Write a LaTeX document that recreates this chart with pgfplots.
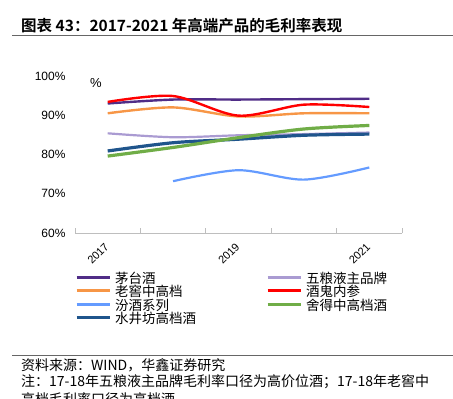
\documentclass[border=0pt]{standalone}
\usepackage{pgfplots}
\pgfplotsset{compat=1.18}
\usepackage{fontspec}
\setmainfont{Liberation Sans}
\newfontfamily\cjk{Noto Sans CJK SC}[BoldFont={Noto Sans CJK SC Bold}]
\definecolor{cmt}{RGB}{80,45,135}
\definecolor{cwl}{RGB}{170,155,210}
\definecolor{clj}{RGB}{247,150,70}
\definecolor{cjg}{RGB}{255,0,0}
\definecolor{cfj}{RGB}{100,155,255}
\definecolor{csd}{RGB}{112,173,71}
\definecolor{csj}{RGB}{31,85,140}
\definecolor{cax}{RGB}{190,190,190}
\begin{document}
\begin{tikzpicture}[x=1pt,y=1pt]
\path[use as bounding box] (0,0) rectangle (453,-399);
\clip (0,0) rectangle (453,-399);
\node[anchor=west, inner sep=0pt, font=\cjk\bfseries\fontsize{15.5}{17}\selectfont] at (21,-26) {图表 43：2017-2021 年高端产品的毛利率表现};
\draw[black!60, line width=1pt] (12,-35) -- (453,-35);
\draw[black!60, line width=1pt] (12,-355) -- (453,-355);
\node[anchor=west, inner sep=0pt, font=\cjk\fontsize{14}{15}\selectfont] at (21,-365) {资料来源：WIND，华鑫证券研究};
\node[anchor=west, inner sep=0pt, font=\cjk\fontsize{14}{15}\selectfont] at (21,-382) {注：17-18年五粮液主品牌毛利率口径为高价位酒；17-18年老窖中};
\node[anchor=west, inner sep=0pt, font=\cjk\fontsize{14}{15}\selectfont] at (21,-399) {高档毛利率口径为高档酒};
\begin{axis}[
  scale only axis, width=327pt, height=157pt,
  at={(75pt,-233pt)}, anchor=south west,
  xmin=0.5, xmax=5.5, ymin=60, ymax=100,
  axis x line*=bottom, axis y line*=left,
  y axis line style={draw=none},
  x axis line style={cax, line width=0.8pt},
  ytick={60,70,80,90,100},
  yticklabel={\pgfmathprintnumber{\tick}\%},
  y tick label style={font=\fontsize{12}{13}\selectfont, xshift=-6pt},
  major tick length=0pt,
  xtick={1,3,5}, xticklabels={2017,2019,2021},
  minor xtick={0.5,1.5,2.5,3.5,4.5,5.5},
  minor tick length=5pt, tick align=inside,
  minor tick style={cax, line width=0.8pt},
  x tick label style={font=\fontsize{11}{12}\selectfont, xshift=1.5pt, yshift=-9.5pt, rotate=45, anchor=east},
  /pgf/number format/assume math mode=true,
  legend columns=2,
  legend cell align=left,
  legend style={draw=none, fill=none, at={(axis description cs:0.0,-0.262)}, anchor=north west,
    font=\cjk\fontsize{13.5}{14}\selectfont, inner sep=0pt, row sep=0pt, column sep=4pt,
    nodes={inner sep=0pt, text height=9.3pt, text depth=4pt}},
  legend image code/.code={\draw[#1, line width=3pt] (0pt,3.5pt) -- (33pt,3.5pt);},
  clip=false,
]
\addplot[cmt, line width=2.4pt, smooth] coordinates {(1,93.0) (2,94.0) (3,94.0) (4,94.1) (5,94.2)};
\addlegendentry{\makebox[147pt][l]{茅台酒}}
\addplot[cwl, line width=2.2pt, smooth] coordinates {(1,85.4) (2,84.4) (3,84.9) (4,85.2) (5,85.6)};
\addlegendentry{五粮液主品牌}
\addplot[clj, line width=2.4pt, smooth] coordinates {(1,90.5) (2,92.0) (3,89.7) (4,90.5) (5,90.5)};
\addlegendentry{\makebox[147pt][l]{老窖中高档}}
\addplot[cjg, line width=2.4pt, smooth] coordinates {(1,93.4) (2,94.9) (3,89.9) (4,92.7) (5,92.1)};
\addlegendentry{酒鬼内参}
\addplot[cfj, line width=2.2pt, smooth] coordinates {(2,73.2) (3,76.0) (4,73.6) (5,76.7)};
\addlegendentry{\makebox[147pt][l]{汾酒系列}}
\addplot[csj, line width=3.2pt, smooth, forget plot] coordinates {(1,80.9) (2,83.0) (3,83.9) (4,84.9) (5,85.2)};
\addplot[csd, line width=3.2pt, smooth] coordinates {(1,79.6) (2,81.8) (3,84.3) (4,86.5) (5,87.4)};
\addlegendentry{舍得中高档酒}
\addlegendimage{csj, line width=3.2pt}
\addlegendentry{水井坊高档酒}
\end{axis}
\node[font=\fontsize{13}{14}\selectfont] at (96,-83) {\%};
\end{tikzpicture}
\end{document}
